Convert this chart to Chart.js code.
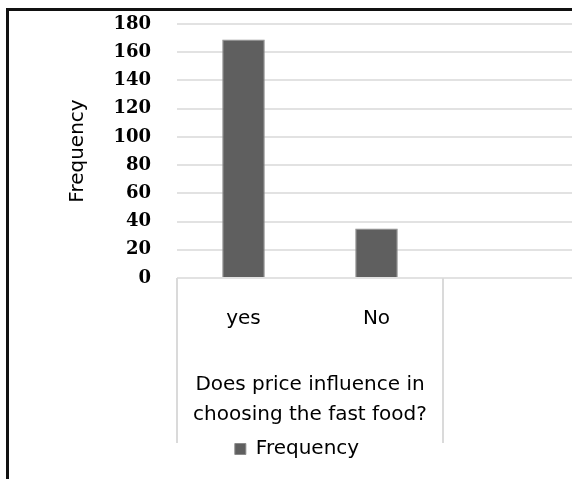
<!DOCTYPE html>
<html lang="en">
<head>
<meta charset="UTF-8">
<title>Does price influence in choosing the fast food?</title>
<script src="https://cdn.jsdelivr.net/npm/chart.js"></script>
<style>
    html, body { margin: 0; padding: 0; background: #fff; }
    #wrap { position: relative; width: 572px; height: 479px; overflow: hidden; }
    #chart { position: absolute; left: 0; top: 0; }
    /* the reference is a cropped Excel chart: only its top and left frame show */
    #frame { position: absolute; left: 6px; top: 8px; width: 700px; height: 600px;
             border-left: 3px solid #111; border-top: 3px solid #111; pointer-events: none; }
</style>
</head>
<body>
<div id="wrap">
    <canvas id="chart" width="594" height="479"></canvas>
    <div id="frame"></div>
</div>

<script>
    // third slot is the start of the next category group, cut off in the picture
    const categories = ['yes', 'No', ''];
    const frequency = [169, 35, null];
    const groupLabel = ['Does price influence in', 'choosing the fast food?'];
    const groupSize = 2;
    const yMin = 0, yMax = 180, yStep = 20;

    const textFont = { family: 'DejaVu Sans', size: 20 };
    const boxLine = '#dadada';

    // Excel style multi-level axis: boxes under the categories + group caption
    const groupBoxes = {
        id: 'groupBoxes',
        afterDraw(chart) {
            const x = chart.scales.x;
            const ctx = chart.ctx;
            const top = chart.chartArea.bottom;
            ctx.save();
            ctx.strokeStyle = boxLine;
            ctx.lineWidth = 2;
            for (let k = 0; k <= categories.length; k += groupSize) {
                const px = Math.round(x.getPixelForValue(k - 0.5));
                ctx.beginPath();
                ctx.moveTo(px, top);
                ctx.lineTo(px, top + 165);
                ctx.stroke();
            }
            ctx.fillStyle = '#000';
            ctx.font = '20px "DejaVu Sans"';
            ctx.textAlign = 'center';
            ctx.textBaseline = 'middle';
            const cx = (x.getPixelForValue(0) + x.getPixelForValue(groupSize - 1)) / 2;
            groupLabel.forEach((line, i) => ctx.fillText(line, cx, top + 107 + i * 30));
            ctx.restore();
        }
    };

    new Chart(document.getElementById('chart'), {
        type: 'bar',
        data: {
            labels: categories,
            datasets: [{
                label: 'Frequency',
                data: frequency,
                backgroundColor: '#5f5f5f',
                borderColor: '#8a8a8a',
                borderWidth: 1,
                categoryPercentage: 1,
                barPercentage: 0.32
            }]
        },
        options: {
            responsive: false,
            animation: false,
            layout: { padding: { left: 0, right: 0, top: 24, bottom: 10 } },
            plugins: {
                tooltip: { enabled: false },
                legend: {
                    position: 'bottom',
                    labels: {
                        color: '#000',
                        font: textFont,
                        boxWidth: 11,
                        boxHeight: 11
                    }
                }
            },
            scales: {
                y: {
                    min: yMin,
                    max: yMax,
                    afterFit: s => { s.width = 177; s.paddingTop = 0; s.paddingBottom = 0; },
                    ticks: {
                        stepSize: yStep,
                        padding: 26,
                        color: '#000',
                        font: { family: 'DejaVu Serif', size: 18, weight: 'bold' }
                    },
                    grid: { color: '#e2e2e2', lineWidth: 2, drawTicks: false },
                    border: { display: false },
                    title: {
                        display: true,
                        text: 'Frequency',
                        color: '#000',
                        font: textFont,
                        padding: { top: 66, bottom: 4 }
                    }
                },
                // empty strip so the plot stops where the cropped chart would
                yRight: {
                    position: 'right',
                    afterFit: s => { s.width = 18; s.paddingTop = 0; s.paddingBottom = 0; },
                    ticks: { display: false },
                    grid: { display: false },
                    border: { display: false }
                },
                x: {
                    afterFit: s => { s.height = 151; },
                    ticks: { color: '#000', font: textFont, padding: 21, maxRotation: 0 },
                    grid: { display: false },
                    border: { display: false }
                }
            }
        },
        plugins: [groupBoxes]
    });
</script>
</body>
</html>
